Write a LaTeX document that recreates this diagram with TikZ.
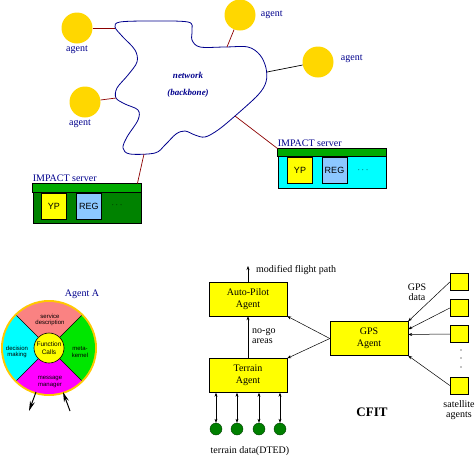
\documentclass[tikz,border=0pt]{standalone}
\usepackage{fontspec}
\setmainfont{Liberation Serif}
\setsansfont{Liberation Sans}
\usetikzlibrary{positioning,arrows.meta}
\definecolor{agentgold}{RGB}{255,215,0}
\definecolor{netblue}{RGB}{0,0,140}
\definecolor{linkred}{RGB}{140,0,0}
\definecolor{bargreen}{RGB}{0,170,0}
\definecolor{bodygreen}{RGB}{0,130,0}
\definecolor{regblue}{RGB}{140,200,255}
\definecolor{salmon}{RGB}{250,130,130}
\definecolor{metagreen}{RGB}{0,230,0}
\definecolor{ringgold}{RGB}{255,200,0}
\definecolor{dtedgreen}{RGB}{0,128,0}
\definecolor{boxyellow}{RGB}{255,255,0}
\definecolor{srvcyan}{RGB}{0,255,255}
\definecolor{msgmagenta}{RGB}{255,0,255}
\begin{document}
\begin{tikzpicture}[x=1pt,y=-1pt,
  agent/.style={circle,fill=agentgold,minimum size=31pt,inner sep=0pt},
  agentlbl/.style={text=netblue,font=\fontsize{10}{11}\selectfont,inner sep=1pt},
  link/.style={linkred,line width=0.7pt},
  srvbox/.style={draw,line width=0.8pt,minimum width=108pt,minimum height=39pt,inner sep=0pt},
  slot/.style={draw,line width=0.8pt,minimum width=25pt,minimum height=26pt,inner sep=0pt,font=\sffamily\fontsize{9}{10}\selectfont},
  agentbox/.style={draw,fill=boxyellow,minimum width=78pt,minimum height=34pt,align=center,font=\fontsize{10}{12}\selectfont,inner sep=0pt},
  satbox/.style={draw,fill=boxyellow,minimum width=18pt,minimum height=17pt,inner sep=0pt},
  dted/.style={circle,draw=black!50!dtedgreen,fill=dtedgreen,minimum size=12pt,inner sep=0pt},
  flow/.style={-{Stealth[length=4pt,width=3pt]},line width=0.5pt},
  dflow/.style={{Stealth[length=4pt,width=3pt]}-{Stealth[length=4pt,width=3pt]},line width=0.5pt},
  bigarr/.style={-{Stealth[length=10pt,width=5pt]},line width=1pt},
  txt/.style={font=\fontsize{10}{10}\selectfont,align=center,inner sep=0pt},
  sector/.style={font=\sffamily\fontsize{6}{6.5}\selectfont,align=center,inner sep=0pt},
  fcall/.style={circle,draw,fill=boxyellow,line width=0.6pt,minimum size=30pt,inner sep=0pt,align=center,font=\sffamily\fontsize{6.5}{8}\selectfont}]
  \useasboundingbox (0,0) rectangle (475,456);
  \draw[netblue,line width=0.8pt] plot[smooth cycle,tension=0.55] coordinates {
    (115,27) (120,22) (150,21) (188,22) (192,30) (192,40) (200,47) (225,47) (248,47)
    (260,55) (266,68) (266,82) (258,95) (235,116) (218,130) (205,137) (195,135)
    (185,131) (176,134) (165,145) (155,153) (130,154) (123,148) (127,137) (138,120)
    (138,110) (125,104) (116,98) (117,88) (128,75) (137,62) (135,50) (122,36)};
  \coordinate (n1) at (115,28);
  \coordinate (n2) at (116,98);
  \coordinate (n3) at (227,47);
  \coordinate (n4) at (267,72);
  \coordinate (n5) at (144,154);
  \coordinate (n6) at (235,116);
  \node[text=netblue,font=\bfseries\itshape\fontsize{9}{17}\selectfont,align=center] (net) at (188,85) {network\\(backbone)};
  \node[agent] (ag1) at (77,28) {};
  \node[agent] (ag2) at (85,102) {};
  \node[agent] (ag3) at (240,15) {};
  \node[agent] (ag4) at (318,62) {};
  \node[agentlbl,below=1pt of ag1] (lb1) {agent};
  \node[agentlbl,below=1pt of ag2,xshift=-5pt] (lb2) {agent};
  \node[agentlbl,right=4pt of ag3] (lb3) {agent};
  \node[agentlbl,right=6pt of ag4,yshift=3pt] (lb4) {agent};
  \node[srvbox,fill=bodygreen] (srv1) at (87,203.5) {};
  \draw[fill=bargreen,line width=0.8pt] (srv1.north west) rectangle ([yshift=-9pt]srv1.north east);
  \node[slot,fill=boxyellow] (yp1) at (54,206) {YP};
  \node[slot,fill=regblue] (reg1) at (89,206) {REG};
  \node[font=\fontsize{9}{10}\selectfont] (more1) at (117,205) {$\cdots$};
  \node[agentlbl,anchor=south west,inner sep=0pt] (lbs1) at ([yshift=2pt]srv1.north west) {IMPACT server};
  \node[srvbox,fill=srvcyan] (srv2) at (332,168.5) {};
  \draw[fill=bargreen,line width=0.8pt] (srv2.north west) rectangle ([yshift=-8pt]srv2.north east);
  \node[slot,fill=boxyellow] (yp2) at (300,170) {YP};
  \node[slot,fill=regblue] (reg2) at (334.5,170) {REG};
  \node[font=\fontsize{9}{10}\selectfont] (more2) at (363,170) {$\cdots$};
  \node[agentlbl,anchor=south west,inner sep=0pt] (lbs2) at ([yshift=2pt]srv2.north west) {IMPACT server};
  \draw[link] (ag1) -- (n1);
  \draw[link] (ag2) -- (n2);
  \draw[link] (ag3) -- (n3);
  \draw[line width=0.7pt] (ag4) -- (n4);
  \draw[link] (n5) -- ([xshift=-4pt]srv1.north east);
  \draw[link] (n6) -- (srv2.north west);
  \coordinate (ac) at (49,348);
  \fill[ringgold] (ac) circle[radius=48];
  \fill[salmon] (ac) -- ++(225:46) arc[start angle=225,end angle=315,radius=46] -- cycle;
  \fill[metagreen] (ac) -- ++(-45:46) arc[start angle=-45,end angle=45,radius=46] -- cycle;
  \fill[msgmagenta] (ac) -- ++(45:46) arc[start angle=45,end angle=135,radius=46] -- cycle;
  \fill[srvcyan] (ac) -- ++(135:46) arc[start angle=135,end angle=225,radius=46] -- cycle;
  \draw[line width=0.6pt] ([shift={(45:15)}]ac) -- ([shift={(45:46)}]ac);
  \draw[line width=0.6pt] ([shift={(135:15)}]ac) -- ([shift={(135:46)}]ac);
  \draw[line width=0.6pt] ([shift={(225:15)}]ac) -- ([shift={(225:46)}]ac);
  \draw[line width=0.6pt] ([shift={(315:15)}]ac) -- ([shift={(315:46)}]ac);
  \node[fcall] (fc) at (ac) {Function\\Calls};
  \node[sector] (svc) at (50,320) {service\\description};
  \node[sector] (dec) at (17,352) {decision\\making};
  \node[sector] (meta) at (80,352) {meta-\\kernel};
  \node[sector] (msg) at (50,382) {message\\manager};
  \node[agentlbl] (agA) at (82,294) {Agent A};
  \coordinate (outS) at (36,392);
  \coordinate (outE) at (29,411);
  \coordinate (inS) at (70,411);
  \coordinate (inE) at (63,392);
  \draw[bigarr] (outS) -- (outE);
  \draw[bigarr] (inS) -- (inE);
  \node[agentbox] (ap) at (248,299) {Auto-Pilot\\Agent};
  \node[agentbox] (ter) at (248,375.5) {Terrain\\Agent};
  \node[agentbox] (gps) at (369,338.5) {GPS\\Agent};
  \node[satbox] (sat1) at (459,282) {};
  \node[satbox] (sat2) at (459,308) {};
  \node[satbox] (sat3) at (459,334) {};
  \node[satbox] (sat4) at (459,385.5) {};
  \fill (461,350) circle[radius=0.6];
  \fill (461,358) circle[radius=0.6];
  \fill (461,367) circle[radius=0.6];
  \coordinate (mfp0) at (248,266);
  \node[txt,anchor=west] (mfp) at (256,270) {modified flight path};
  \node[txt,align=left,anchor=west] (nogo) at (252,336) {no-go\\areas};
  \node[txt] (gpsd) at (417,292) {GPS\\data};
  \node[txt] (satl) at (459,410) {satellite\\agents};
  \node[txt,font=\bfseries\fontsize{13}{14}\selectfont] (cfit) at (372,412) {CFIT};
  \draw[flow] (ap.north) -- (mfp0);
  \draw[flow] (ter.north) -- (ap.south);
  \draw[flow] (gps.west) -- (ap.south east);
  \draw[flow] (gps.west) -- (ter.north east);
  \draw[flow] (sat1.west) -- (gps.north east);
  \draw[flow] (sat2.west) -- ([yshift=-8pt]gps.north east);
  \draw[flow] (sat3.west) -- ([yshift=4pt]gps.east);
  \draw[flow] (sat4.west) -- (gps.south east);
  \node[dted] (d1) at (216,429) {};
  \node[dted] (d2) at (237,429) {};
  \node[dted] (d3) at (259,429) {};
  \node[dted] (d4) at (280,429) {};
  \draw[dflow] (ter.south -| d1) -- (d1);
  \draw[dflow] (ter.south -| d2) -- (d2);
  \draw[dflow] (ter.south -| d3) -- (d3);
  \draw[dflow] (ter.south -| d4) -- (d4);
  \node[txt] (dtedlbl) at (250,451) {terrain data(DTED)};
\end{tikzpicture}
\end{document}
